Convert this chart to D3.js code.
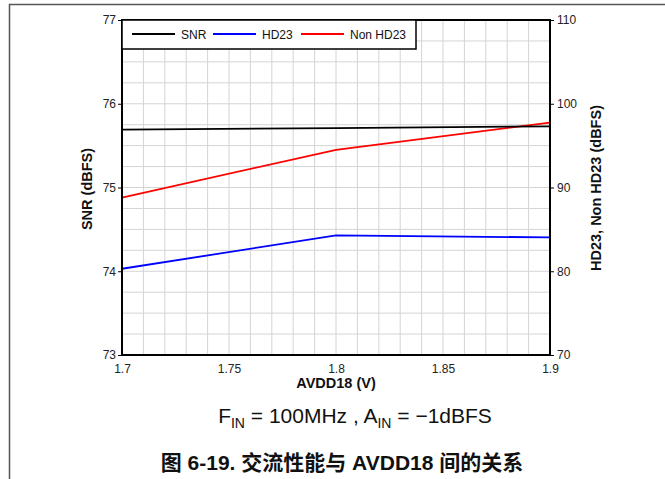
<!DOCTYPE html>
<html><head><meta charset="utf-8">
<script src="https://cdn.jsdelivr.net/npm/d3@7"></script>
<style>body{margin:0;background:#fff;}svg{display:block;font-family:"Liberation Sans",Arial,sans-serif;}</style>
</head><body>
<svg id="c" width="665" height="479"></svg>
<script>
const voltages = [1.7, 1.8, 1.9];
const snr = [75.69, 75.71, 75.73];
const hd23 = [80.3, 84.28, 84.04];
const nonHd23 = [88.8, 94.5, 97.75];
const xTicks = [1.7, 1.75, 1.8, 1.85, 1.9];
const xTickLabels = ["1.7", "1.75", "1.8", "1.85", "1.9"];
const yLeftTicks = [73, 74, 75, 76, 77];
const yRightTicks = [70, 80, 90, 100, 110];
const seriesNames = ["SNR", "HD23", "Non HD23"];
const seriesColors = ["#000000", "#0000ff", "#ff0000"];

const svg = d3.select("#c");
const L = 122, R = 550, T = 20, B = 355;
const x = d3.scaleLinear().domain([1.7, 1.9]).range([L, R]);
const yL = d3.scaleLinear().domain([73, 77]).range([B, T]);
const yR = d3.scaleLinear().domain([70, 110]).range([B, T]);

// outer border
svg.append("path").attr("d", `M9.5,479 L9.5,4.5 L665,4.5`).attr("fill","none").attr("stroke","#555").attr("stroke-width",1.5);

// grid
const g = svg.append("g");
g.selectAll(".vg").data(d3.range(0, 21)).enter().append("line")
  .attr("x1", i => x(1.7 + i * 0.01)).attr("x2", i => x(1.7 + i * 0.01))
  .attr("y1", T).attr("y2", B).attr("stroke", "#d4d4d4").attr("stroke-width", 1);
g.selectAll(".hg").data(d3.range(0, 17)).enter().append("line")
  .attr("y1", i => yL(73 + i * 0.25)).attr("y2", i => yL(73 + i * 0.25))
  .attr("x1", L).attr("x2", R).attr("stroke", "#d4d4d4").attr("stroke-width", 1);

// axes
const fmtX = d => xTickLabels[xTicks.indexOf(d)];
const ax = svg.append("g").attr("transform", `translate(0,${B})`)
  .call(d3.axisBottom(x).tickValues(xTicks).tickFormat(fmtX).tickSize(0).tickPadding(9));
const al = svg.append("g").attr("transform", `translate(${L},0)`)
  .call(d3.axisLeft(yL).tickValues(yLeftTicks).tickFormat(d3.format("d")).tickSize(4).tickPadding(2));
const ar = svg.append("g").attr("transform", `translate(${R},0)`)
  .call(d3.axisRight(yR).tickValues(yRightTicks).tickFormat(d3.format("d")).tickSize(4).tickPadding(3));
[ax, al, ar].forEach(a => {
  a.select(".domain").remove();
  a.selectAll("text").attr("font-size", 12).attr("fill", "#222").attr("font-family", "Liberation Sans, Arial, sans-serif");
  a.selectAll("line").attr("stroke", "#000");
});

// series
const lineL = d3.line().x((d, i) => x(voltages[i])).y(d => yL(d));
const lineR = d3.line().x((d, i) => x(voltages[i])).y(d => yR(d));
svg.append("path").datum(hd23).attr("d", lineR).attr("fill", "none").attr("stroke", seriesColors[1]).attr("stroke-width", 1.8);
svg.append("path").datum(nonHd23).attr("d", lineR).attr("fill", "none").attr("stroke", seriesColors[2]).attr("stroke-width", 1.8);
svg.append("path").datum(snr).attr("d", lineL).attr("fill", "none").attr("stroke", seriesColors[0]).attr("stroke-width", 1.8);

// frame
svg.append("rect").attr("x", L).attr("y", T).attr("width", R - L).attr("height", B - T)
  .attr("fill", "none").attr("stroke", "#000").attr("stroke-width", 2);

// legend
const lg = svg.append("g");
lg.append("rect").attr("x", L).attr("y", T).attr("width", 294).attr("height", 29)
  .attr("fill", "#fff").attr("stroke", "#000").attr("stroke-width", 1.5);
const legX = [132, 213, 301];
seriesNames.forEach((n, i) => {
  lg.append("line").attr("x1", legX[i]).attr("x2", legX[i] + 43).attr("y1", 34).attr("y2", 34)
    .attr("stroke", seriesColors[i]).attr("stroke-width", 1.8);
  lg.append("text").attr("x", legX[i] + 49).attr("y", 38.5).attr("font-size", 12).attr("fill", "#111").text(n);
});

// axis titles
svg.append("text").attr("transform", "translate(92,189) rotate(-90)").attr("text-anchor", "middle")
  .attr("font-size", 14.5).attr("font-weight", "bold").attr("fill", "#111").text("SNR (dBFS)");
svg.append("text").attr("transform", "translate(601,188) rotate(-90)").attr("text-anchor", "middle")
  .attr("font-size", 14.5).attr("font-weight", "bold").attr("fill", "#111").text("HD23, Non HD23 (dBFS)");
svg.append("text").attr("x", 336).attr("y", 388).attr("text-anchor", "middle")
  .attr("font-size", 14.5).attr("font-weight", "bold").attr("fill", "#111").text("AVDD18 (V)");

// caption
const cap = svg.append("text").attr("x", 355).attr("y", 423).attr("text-anchor", "middle")
  .attr("font-size", 21).attr("fill", "#111");
cap.append("tspan").text("F");
cap.append("tspan").attr("font-size", 14).attr("dy", 5).text("IN");
cap.append("tspan").attr("dy", -5).text(" = 100MHz , A");
cap.append("tspan").attr("font-size", 14).attr("dy", 5).text("IN");
cap.append("tspan").attr("dy", -5).text(" = \u22121dBFS");

svg.append("text").attr("x", 342).attr("y", 470).attr("text-anchor", "middle")
  .attr("font-size", 21).attr("font-weight", "bold").attr("fill", "#111")
  .attr("font-family", "'Liberation Sans', 'Noto Sans CJK SC', sans-serif")
  .text("图 6-19. 交流性能与 AVDD18 间的关系");
</script>
</body></html>
